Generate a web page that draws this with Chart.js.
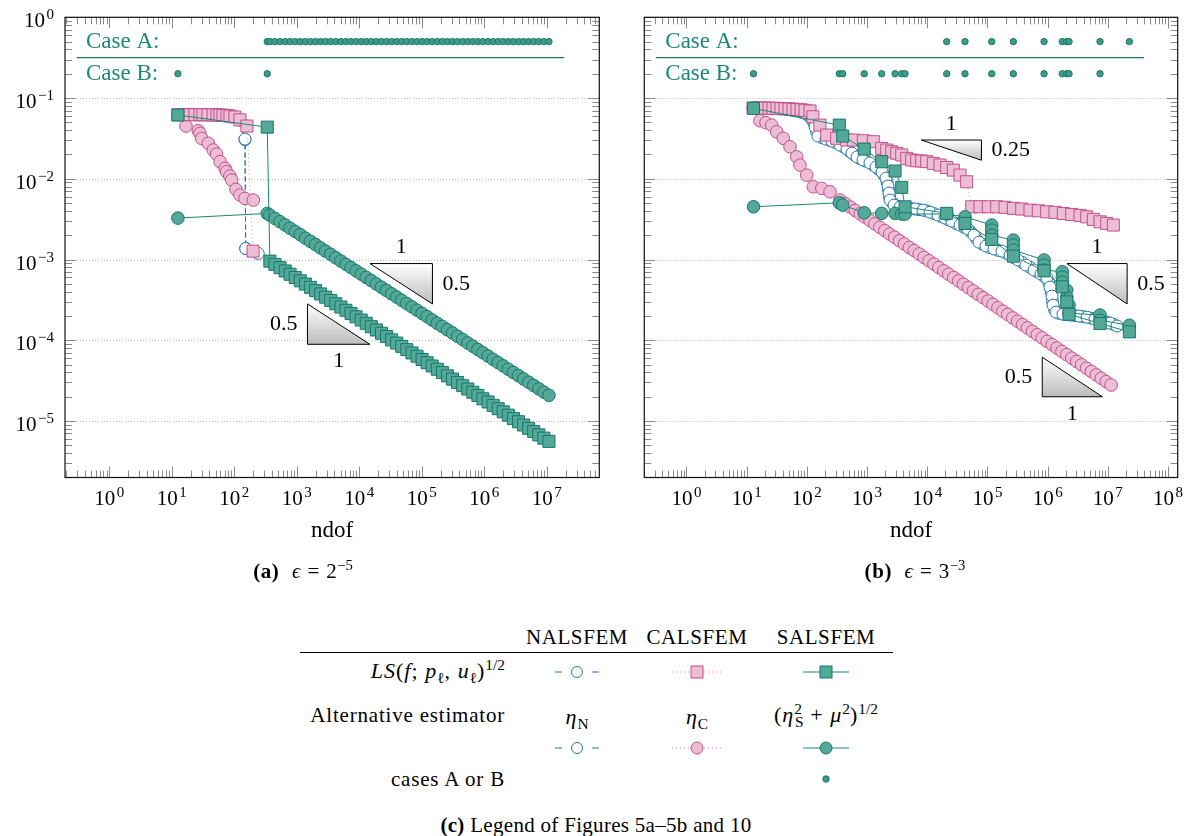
<!DOCTYPE html>
<html>
<head>
<meta charset="utf-8">
<title>ndof convergence</title>
<script src="https://cdn.jsdelivr.net/npm/chart.js@4.4.1/dist/chart.umd.min.js"></script>
<style>
  html, body { margin: 0; padding: 0; background: #fff; }
  body { position: relative; width: 1192px; height: 836px; overflow: hidden;
         font-family: 'Liberation Serif', 'Times New Roman', 'DejaVu Serif', serif; color: #000; }
  canvas { position: absolute; top: 0; }
  #chart-a { left: 0; }
  #chart-b { left: 620px; }
  .lbl { position: absolute; white-space: nowrap; font-size: 21px; line-height: 1;
         letter-spacing: 0.6px; transform: translate(-50%, -50%); }
  .lbl.r { transform: translate(-100%, -50%); }
  .m { font-size: 22px; letter-spacing: 1px; }
  .sp { display: inline-block; width: 0.3em; }
  .op { display: inline-block; margin: 0 0.3em; }
  .rule { position: absolute; left: 300px; width: 593px; top: 652px; border-top: 1px solid #000; }
  sup, sub { font-size: 70%; line-height: 0; position: relative; vertical-align: baseline; letter-spacing: 0; }
  sup { top: -0.55em; }
  sub { top: 0.3em; }
  .mk { position: absolute; transform: translate(-50%, -50%); }
</style>
</head>
<body>
<canvas id="chart-a" width="620" height="600"></canvas>
<canvas id="chart-b" width="572" height="600"></canvas>

<div class="lbl" style="left:303px;top:571px"><b>(a)</b><span class="sp"></span><span class="sp"></span><i>ϵ</i><span class="op">=</span>2<sup>−5</sup></div>
<div class="lbl" style="left:915px;top:571px"><b>(b)</b><span class="sp"></span><span class="sp"></span><i>ϵ</i><span class="op">=</span>3<sup>−3</sup></div>

<!-- legend table -->
<div class="lbl" style="left:577px;top:637px">NALSFEM</div>
<div class="lbl" style="left:697px;top:637px">CALSFEM</div>
<div class="lbl" style="left:826px;top:637px">SALSFEM</div>
<div class="rule"></div>

<div class="lbl r m" style="left:505px;top:671px"><i>LS</i>(<i>f</i>;<span class="sp"></span><i>p</i><sub>ℓ</sub>,<span class="sp"></span><i>u</i><sub>ℓ</sub>)<sup>1/2</sup></div>
<svg class="mk" style="left:577px;top:672px" width="46" height="16">
  <line x1="1" y1="8" x2="8" y2="8" stroke="#2474ad"/>
  <circle cx="23" cy="8" r="5.5" fill="#fff" stroke="#2474ad"/>
  <line x1="38" y1="8" x2="45" y2="8" stroke="#2474ad"/>
</svg>
<svg class="mk" style="left:697px;top:672px" width="50" height="16">
  <line x1="0" y1="8" x2="50" y2="8" stroke="#dc86b2" stroke-dasharray="1 3"/>
  <rect x="19" y="2" width="12" height="12" fill="#ebbed6" stroke="#c24f8a"/>
</svg>
<svg class="mk" style="left:826px;top:672px" width="46" height="16">
  <line x1="0" y1="8" x2="46" y2="8" stroke="#1b8676"/>
  <rect x="17" y="2" width="12" height="12" fill="#53a898" stroke="#17786a"/>
</svg>

<div class="lbl r" style="left:505px;top:715px;letter-spacing:0.8px">Alternative estimator</div>
<div class="lbl m" style="left:577px;top:717px"><i>η</i><sub>N</sub></div>
<div class="lbl m" style="left:697px;top:717px"><i>η</i><sub>C</sub></div>
<div class="lbl m" style="left:826px;top:715px">(<i>η</i><sup>2</sup><sub style="margin-left:-0.45em">S</sub><span class="op">+</span><i>μ</i><sup>2</sup>)<sup>1/2</sup></div>

<svg class="mk" style="left:577px;top:748px" width="46" height="16">
  <line x1="1" y1="8" x2="8" y2="8" stroke="#2474ad"/>
  <circle cx="23" cy="8" r="5.5" fill="#fff" stroke="#2474ad"/>
  <line x1="38" y1="8" x2="45" y2="8" stroke="#2474ad"/>
</svg>
<svg class="mk" style="left:697px;top:748px" width="50" height="16">
  <line x1="0" y1="8" x2="50" y2="8" stroke="#dc86b2" stroke-dasharray="1 3"/>
  <circle cx="25" cy="8" r="6" fill="#ebbed6" stroke="#c24f8a"/>
</svg>
<svg class="mk" style="left:826px;top:748px" width="46" height="16">
  <line x1="0" y1="8" x2="46" y2="8" stroke="#1b8676"/>
  <circle cx="23" cy="8" r="6" fill="#53a898" stroke="#17786a"/>
</svg>

<div class="lbl r" style="left:505px;top:779px;letter-spacing:0.8px">cases A or B</div>
<svg class="mk" style="left:826px;top:779px" width="10" height="10">
  <circle cx="5" cy="5" r="3.2" fill="#3d9b8a" stroke="#17786a"/>
</svg>

<div class="lbl" style="left:596px;top:825px;letter-spacing:0.3px"><b>(c)</b> Legend of Figures 5a–5b and 10</div>

<script>
/* ── ε = 2^-5 ─────────────────────────────────────────────── */

const a_ndofS = [12.5, 336, 370, 446, 538, 651, 780, 943, 1137, 1371, 1650, 1993,
  2401, 2887, 3486, 4203, 5075, 6104, 7369, 8866, 10723, 12904, 15571, 18739, 22606,
  27277, 32899, 39611, 47771, 57529, 69524, 83731, 100951, 121593, 146583, 176987,
  213331, 257011, 309773, 373219, 450849, 543217, 654671, 788823, 950641, 1148117,
  1383601, 1667209, 2009131, 2420987, 2924191, 3523667, 4246239, 5116771, 6165979,
  7447277, 8974331, 10814297];
const a_lsS = [0.0616, 0.0436, 9.55e-4, 8.70e-4, 7.92e-4, 7.21e-4, 6.57e-4, 5.98e-4,
  5.45e-4, 4.96e-4, 4.52e-4, 4.12e-4, 3.75e-4, 3.42e-4, 3.11e-4, 2.83e-4, 2.58e-4,
  2.35e-4, 2.14e-4, 1.95e-4, 1.78e-4, 1.62e-4, 1.47e-4, 1.34e-4, 1.22e-4, 1.11e-4,
  1.01e-4, 9.23e-5, 8.40e-5, 7.65e-5, 6.97e-5, 6.35e-5, 5.78e-5, 5.27e-5, 4.80e-5,
  4.37e-5, 3.98e-5, 3.62e-5, 3.30e-5, 3.00e-5, 2.74e-5, 2.49e-5, 2.27e-5, 2.07e-5,
  1.88e-5, 1.72e-5, 1.56e-5, 1.42e-5, 1.30e-5, 1.18e-5, 1.07e-5, 9.79e-6, 8.91e-6,
  8.12e-6, 7.39e-6, 6.73e-6, 6.13e-6, 5.59e-6];
const a_estS = [3.26e-3, 3.72e-3, 3.55e-3, 3.23e-3, 2.94e-3, 2.68e-3, 2.44e-3, 2.22e-3,
  2.03e-3, 1.84e-3, 1.68e-3, 1.53e-3, 1.39e-3, 1.27e-3, 1.16e-3, 1.05e-3, 9.58e-4,
  8.73e-4, 7.95e-4, 7.24e-4, 6.59e-4, 6.00e-4, 5.47e-4, 4.98e-4, 4.54e-4, 4.13e-4,
  3.76e-4, 3.43e-4, 3.12e-4, 2.84e-4, 2.59e-4, 2.36e-4, 2.15e-4, 1.96e-4, 1.78e-4,
  1.62e-4, 1.48e-4, 1.35e-4, 1.23e-4, 1.12e-4, 1.02e-4, 9.26e-5, 8.43e-5, 7.68e-5,
  7.00e-5, 6.37e-5, 5.80e-5, 5.28e-5, 4.81e-5, 4.38e-5, 3.99e-5, 3.64e-5, 3.31e-5,
  3.02e-5, 2.75e-5, 2.50e-5, 2.28e-5, 2.08e-5];

const a_ndofC = [12.5, 16.2, 19.5, 23.4, 28.2, 31.5, 37.8, 45.5, 52.7, 58.9, 65.8, 76.2,
  85.1, 102, 123, 159, 199];
const a_lsC = [0.0622, 0.0623, 0.0623, 0.0622, 0.0622, 0.0621, 0.0620, 0.0619, 0.0617,
  0.0615, 0.0612, 0.0606, 0.0598, 0.0582, 0.0537, 0.0450, 0.00127];
const a_ndofCe = [16.8, 26.5, 28.2, 30, 38.3, 46, 52, 59, 71, 75, 85, 90.6, 106, 123, 148, 201];
const a_estC = [0.0450, 0.0394, 0.0365, 0.0316, 0.0275, 0.0227, 0.0202, 0.0163, 0.0135,
  0.0122, 0.0108, 0.00964, 0.0074, 0.00628, 0.00571, 0.00545];

const a_ndofN = [12.5, 16.2, 19.5, 23.4, 28.2, 31.5, 37.8, 45.5, 52.7, 58.9, 65.8, 76.2,
  85.1, 102, 123, 148, 152, 241];
const a_lsN = [0.0622, 0.0622, 0.0621, 0.0621, 0.0620, 0.0620, 0.0619, 0.0618, 0.0616,
  0.0614, 0.0610, 0.0604, 0.0596, 0.0580, 0.0535, 0.0310, 0.00137, 0.00119];
const a_ndofNe = [12.5, 19.5, 28.2, 37.8, 52.7, 65.8, 85.1, 123, 148, 152];
const a_estN = [0.0621, 0.0620, 0.0619, 0.0617, 0.0615, 0.0609, 0.0594, 0.0533, 0.0305, 0.00137];

// refinement steps flagged as case A / case B
const a_caseA = a_ndofS.slice(1);
const a_caseB = a_ndofS.slice(0, 2);

/* ── ε = 3^-3 ─────────────────────────────────────────────── */

const b_ndofS = [13, 346, 394, 899, 1750, 2917, 3767, 4276, 21040, 42360, 117800,
  269200, 871000, 1750000, 2075000, 2265000, 7413000, 22750000];
const b_lsS = [0.0745, 0.0462, 0.0338, 0.0233, 0.01626, 0.01247, 0.00782, 0.0045,
  0.00373, 0.0028, 0.001775, 0.0011, 7.24e-4, 4.59e-4, 2.99e-4, 2.10e-4, 1.61e-4, 1.27e-4];
const b_ndofSe = [13, 346, 394, 899, 1750, 2917, 3767, 4276, 21040, 42360,
  117800, 117800, 117800, 269200, 269200, 269200, 871000, 871000, 871000,
  1750000, 1750000, 1750000, 2075000, 2075000, 2265000, 2265000, 7413000, 7413000, 22750000];
const b_estS = [0.0045, 0.00504, 0.00472, 0.00379, 0.00373, 0.00373, 0.00366, 0.00366,
  0.00366, 0.00338, 0.00267, 0.00231, 0.0020, 0.00174, 0.00151, 0.00131, 9.84e-4,
  8.53e-4, 7.40e-4, 7.05e-4, 6.05e-4, 5.25e-4, 4.18e-4, 3.42e-4, 2.72e-4, 2.17e-4,
  2.05e-4, 1.77e-4, 1.53e-4];

const b_ndofC = [12.8, 14.9, 17.3, 20.2, 23.6, 27.4, 32.0, 37.2, 43.4, 50.6, 59.0, 68.7,
  80.2, 93.3, 113, 126, 165, 214, 313, 459, 592, 867, 1271, 1750, 2123, 2570, 3112,
  3767, 4560, 5521, 6683, 8091, 9795, 12618, 16293, 21038, 27101, 34995, 45186, 54828,
  75162, 103276, 142561, 195884, 269153, 370681, 509331, 699842, 963829, 1324259,
  1819701, 2511886, 3451437, 4456562, 5741165, 7413102, 9571941, 12331048];
const b_lsC = [0.0752, 0.0752, 0.0752, 0.0750, 0.0748, 0.0746, 0.0745, 0.0741, 0.0738,
  0.0733, 0.0728, 0.0723, 0.0715, 0.0705, 0.0692, 0.0586, 0.0462, 0.0348, 0.0317,
  0.0302, 0.0302, 0.0296, 0.0288, 0.0238, 0.0227, 0.0216, 0.0207, 0.0197, 0.0179,
  0.0171, 0.0167, 0.0166, 0.0163, 0.0155, 0.0148, 0.0138, 0.0128, 0.0111, 0.00918,
  0.0045, 0.0045, 0.0045, 0.0045, 0.00443, 0.0043, 0.00422, 0.00409, 0.00401, 0.0039,
  0.00384, 0.00372, 0.00362, 0.00352, 0.00338, 0.00314, 0.00293, 0.0028, 0.00267];
const b_ndofCe = [16.6, 21, 26.1, 31.6, 40.6, 52.5, 67.9, 76.9, 99.5, 128, 177, 243, 356,
  437, 527, 636, 768, 927, 1119, 1351, 1631, 1968, 2376, 2868, 3462, 4179, 5045, 6089,
  7350, 8873, 10711, 12929, 15607, 18839, 22741, 27451, 33136, 39999, 48283, 58283,
  70354, 84925, 102514, 123745, 149373, 180310, 217653, 262730, 317143, 382826,
  462111, 557818, 673347, 812803, 981141, 1184342, 1429628, 1725715, 2083122,
  2514547, 3035324, 3663958, 4422787, 5338774, 6444468, 7779160, 9390276, 11335000];
const b_estC = [0.0524, 0.0495, 0.0462, 0.0382, 0.0317, 0.0249, 0.0187, 0.0148, 0.0111,
  0.00796, 0.0076, 0.0069, 0.00545, 4.91e-3, 4.46e-3, 4.05e-3, 3.68e-3, 3.35e-3,
  3.04e-3, 2.76e-3, 2.51e-3, 2.28e-3, 2.07e-3, 1.89e-3, 1.71e-3, 1.56e-3, 1.41e-3,
  1.29e-3, 1.17e-3, 1.06e-3, 9.64e-4, 8.76e-4, 7.96e-4, 7.24e-4, 6.58e-4, 5.98e-4,
  5.43e-4, 4.93e-4, 4.48e-4, 4.07e-4, 3.70e-4, 3.36e-4, 3.06e-4, 2.78e-4, 2.52e-4,
  2.29e-4, 2.09e-4, 1.89e-4, 1.72e-4, 1.56e-4, 1.42e-4, 1.29e-4, 1.17e-4, 1.07e-4,
  9.69e-5, 8.81e-5, 8.00e-5, 7.27e-5, 6.61e-5, 6.01e-5, 5.46e-5, 4.96e-5, 4.51e-5,
  4.10e-5, 3.72e-5, 3.38e-5, 3.07e-5, 2.79e-5];

const b_ndofN = [12.8, 20.2, 30.8, 46.8, 68.7, 96.8, 122, 137, 153, 208, 262, 356, 465,
  562, 681, 857, 1119, 1409, 1774, 2065, 2228, 2317, 2410, 2805, 3532, 4613, 6266, 8511,
  11117, 15101, 19724, 25763, 34995, 47534, 59704, 72277, 94624, 128529, 174582,
  237137, 321366, 436516, 592926, 776247, 974990, 1093956, 1180321, 1227439, 1377209,
  1798871, 2443430, 3318945, 4508167, 6123503, 8317638, 10864256, 14190575];
const b_lsN = [0.0752, 0.0752, 0.0741, 0.0719, 0.0690, 0.0634, 0.0550, 0.0438, 0.0338,
  0.0310, 0.0293, 0.0261, 0.0233, 0.0208, 0.0186, 0.0171, 0.0157, 0.0140, 0.0121,
  0.0102, 0.00813, 0.00665, 0.00545, 0.00472, 0.00447, 0.00434, 0.00422, 0.00409,
  0.00386, 0.00355, 0.00326, 0.00299, 0.00267, 0.00238, 0.0020, 0.00164, 0.00147,
  0.00135, 0.00127, 0.001135, 9.84e-4, 8.53e-4, 7.40e-4, 6.61e-4, 5.89e-4, 4.55e-4,
  3.52e-4, 2.72e-4, 2.23e-4, 2.10e-4, 2.05e-4, 1.99e-4, 1.93e-4, 1.83e-4, 1.73e-4,
  1.63e-4, 1.50e-4];
const b_ndofNe = [12.8, 25, 38, 57, 82, 110, 130, 145, 180, 235, 305, 410, 510, 620, 760,
  980, 1260, 1580, 1920, 2150, 2270, 2360, 2600, 3100, 4000, 5300, 7300, 9700, 13000,
  17200, 22500, 30000, 41000, 53000, 66000, 83000, 110000, 150000, 205000, 275000,
  380000, 510000, 680000, 870000, 1040000, 1140000, 1200000, 1300000, 1550000,
  2100000, 2850000, 3850000, 5250000, 7100000, 9500000, 12500000];
const b_estN = [0.0752, 0.0748, 0.0730, 0.0705, 0.0665, 0.0590, 0.0495, 0.0385, 0.0322,
  0.0301, 0.0278, 0.0247, 0.0220, 0.0197, 0.0178, 0.0164, 0.0148, 0.0130, 0.0110,
  0.0091, 0.0074, 0.0060, 0.0051, 0.0046, 0.0044, 0.0043, 0.00415, 0.0040, 0.0037,
  0.0034, 0.0031, 0.0028, 0.0025, 0.0022, 0.0018, 0.00155, 0.0014, 0.0013, 0.0012,
  0.00105, 9.2e-4, 8.0e-4, 7.0e-4, 6.2e-4, 5.2e-4, 4.0e-4, 3.1e-4, 2.4e-4, 2.15e-4,
  2.07e-4, 2.02e-4, 1.96e-4, 1.88e-4, 1.78e-4, 1.68e-4, 1.57e-4];

const b_caseA = b_ndofS.slice(8);
const b_caseB = b_ndofS.slice(0, 17);

// rows of the case strip and the rule between them
const CASE_A_Y = 0.5, CASE_B_Y = 0.2, CASE_RULE_Y = 0.316;
const a_caseRule = [0.30, 1.9e7];
const b_caseRule = [0.31, 4.0e7];

/* ── styling ──────────────────────────────────────────────── */

const BLUE = '#2474ad';
const PINK = '#c24f8a', PINK_FILL = '#ebbed6', PINK_LINE = '#dc86b2';
const TEAL = '#17786a', TEAL_FILL = '#53a898', TEAL_LINE = '#1b8676';
const CASE_TEXT = '#1f877a';
const SERIF = '"Liberation Serif", "Times New Roman", "DejaVu Serif", serif';

const pts = (xs, ys) => xs.map((x, i) => ({ x, y: ys[i] }));
const level = (xs, y) => xs.map(x => ({ x, y }));

function nalsfem(data) {
  return { data, showLine: true, borderColor: BLUE, borderWidth: 1, borderDash: [5, 3],
    pointStyle: 'circle', pointRadius: 6, pointBackgroundColor: '#fff',
    pointBorderColor: BLUE, pointBorderWidth: 1 };
}
function calsfem(data, style) {
  return { data, showLine: true, borderColor: PINK_LINE, borderWidth: 1, borderDash: [1, 3],
    pointStyle: style, pointRadius: style === 'rect' ? 8.5 : 6.3,
    pointBackgroundColor: PINK_FILL, pointBorderColor: PINK, pointBorderWidth: 1 };
}
function salsfem(data, style) {
  return { data, showLine: true, borderColor: TEAL_LINE, borderWidth: 1,
    pointStyle: style, pointRadius: style === 'rect' ? 8.5 : 6.3,
    pointBackgroundColor: TEAL_FILL, pointBorderColor: TEAL, pointBorderWidth: 1 };
}
function caseMarks(xs, y) {
  return { data: level(xs, y), showLine: false, pointStyle: 'circle', pointRadius: 3.2,
    pointBackgroundColor: '#3d9b8a', pointBorderColor: TEAL, pointBorderWidth: 1 };
}
function caseRule(xs) {
  return { data: level(xs, CASE_RULE_Y), showLine: true, borderColor: TEAL,
    borderWidth: 1.2, pointRadius: 0 };
}

/* ── frame, ticks, labels, slope triangles ────────────────── */

function powerLabel(ctx, exp, x, y, align) {
  const base = '10';
  const sup = exp < 0 ? '\u2212' + (-exp) : String(exp);
  ctx.font = `21px ${SERIF}`;
  const wb = ctx.measureText(base).width;
  ctx.font = `15px ${SERIF}`;
  const ws = ctx.measureText(sup).width;
  const w = wb + 1.5 + ws;
  const x0 = align === 'right' ? x - w : x - w / 2;
  ctx.textAlign = 'left';
  ctx.textBaseline = 'alphabetic';
  ctx.font = `21px ${SERIF}`;
  ctx.fillText(base, x0, y);
  ctx.font = `15px ${SERIF}`;
  ctx.fillText(sup, x0 + wb + 1.5, y - 8);
}

function logTicks(scale) {
  const lo = Math.floor(Math.log10(scale.min)), hi = Math.ceil(Math.log10(scale.max));
  const major = [], minor = [];
  for (let e = lo; e <= hi; e++) {
    const v = Math.pow(10, e);
    if (v >= scale.min && v <= scale.max) major.push(e);
    for (let m = 2; m <= 9; m++) {
      const mv = m * v;
      if (mv >= scale.min && mv <= scale.max) minor.push(mv);
    }
  }
  return { major, minor };
}

function drawSlope(chart, s) {
  const { ctx, scales: { x, y } } = chart;
  const x0 = x.getPixelForValue(s.x[0]), x1 = x.getPixelForValue(s.x[1]);
  const y0 = y.getPixelForValue(s.y[0]), y1 = y.getPixelForValue(s.y[1]);
  ctx.beginPath();
  if (s.corner === 'tr') { ctx.moveTo(x0, y0); ctx.lineTo(x1, y0); ctx.lineTo(x1, y1); }
  else { ctx.moveTo(x0, y0); ctx.lineTo(x0, y1); ctx.lineTo(x1, y1); }
  ctx.closePath();
  const g = ctx.createLinearGradient(0, y0, 0, y1);
  g.addColorStop(0, '#ffffff');
  g.addColorStop(1, '#bcbcbc');
  ctx.fillStyle = g;
  ctx.fill();
  ctx.strokeStyle = '#000';
  ctx.lineWidth = 1;
  ctx.stroke();

  ctx.fillStyle = '#000';
  ctx.font = `22px ${SERIF}`;
  ctx.textBaseline = 'middle';
  if (s.corner === 'tr') {
    ctx.textAlign = 'center';
    ctx.fillText(s.run, (x0 + x1) / 2, y0 - 16);
    ctx.textAlign = 'left';
    ctx.fillText(s.rise, x1 + 10, (y0 + y1) / 2);
  } else {
    ctx.textAlign = 'center';
    ctx.fillText(s.run, (x0 + x1) / 2, y1 + 17);
    ctx.textAlign = 'right';
    ctx.fillText(s.rise, x0 - 10, (y0 + y1) / 2);
  }
}

const axesFrame = {
  id: 'axesFrame',
  beforeDatasetsDraw(chart) {
    const { ctx, chartArea: a, scales: { y } } = chart;
    ctx.save();
    ctx.strokeStyle = '#b8b8b8';
    ctx.lineWidth = 1;
    ctx.setLineDash([1, 2]);
    for (const e of logTicks(y).major) {
      const py = Math.round(y.getPixelForValue(Math.pow(10, e))) + 0.5;
      if (py < a.top + 2) continue;
      ctx.beginPath();
      ctx.moveTo(a.left, py);
      ctx.lineTo(a.right, py);
      ctx.stroke();
    }
    ctx.restore();
  },
  afterDatasetsDraw(chart, args, opts) {
    const { ctx, chartArea: a, scales: { x, y } } = chart;
    ctx.save();

    // inward ticks on all four sides
    ctx.strokeStyle = '#8a8a8a';
    ctx.lineWidth = 1;
    const xt = logTicks(x), yt = logTicks(y);
    const tickX = (v, len) => {
      const px = Math.round(x.getPixelForValue(v)) + 0.5;
      ctx.beginPath();
      ctx.moveTo(px, a.bottom); ctx.lineTo(px, a.bottom - len);
      ctx.moveTo(px, a.top); ctx.lineTo(px, a.top + len);
      ctx.stroke();
    };
    const tickY = (v, len) => {
      const py = Math.round(y.getPixelForValue(v)) + 0.5;
      ctx.beginPath();
      ctx.moveTo(a.left, py); ctx.lineTo(a.left + len, py);
      ctx.moveTo(a.right, py); ctx.lineTo(a.right - len, py);
      ctx.stroke();
    };
    xt.minor.forEach(v => tickX(v, 7));
    xt.major.forEach(e => tickX(Math.pow(10, e), 11));
    yt.minor.forEach(v => tickY(v, 7));
    yt.major.forEach(e => tickY(Math.pow(10, e), 11));

    ctx.strokeStyle = '#111';
    ctx.lineWidth = 1.2;
    ctx.strokeRect(a.left, a.top, a.right - a.left, a.bottom - a.top);

    // tick labels
    ctx.fillStyle = '#000';
    xt.major.forEach(e => powerLabel(ctx, e, x.getPixelForValue(Math.pow(10, e)), a.bottom + 27.5, 'center'));
    if (opts.yLabels) {
      yt.major.forEach(e => powerLabel(ctx, e, a.left - 11, y.getPixelForValue(Math.pow(10, e)) + 10, 'right'));
    }
    ctx.font = `23px ${SERIF}`;
    ctx.textAlign = 'center';
    ctx.textBaseline = 'alphabetic';
    ctx.fillText('ndof', (a.left + a.right) / 2, a.bottom + 59);

    // case strip labels
    ctx.fillStyle = CASE_TEXT;
    ctx.font = `23px ${SERIF}`;
    ctx.textAlign = 'left';
    ctx.textBaseline = 'middle';
    ctx.fillText('Case A:', a.left + 21, y.getPixelForValue(CASE_A_Y));
    ctx.fillText('Case B:', a.left + 21, y.getPixelForValue(CASE_B_Y));

    (opts.slopes || []).forEach(s => drawSlope(chart, s));
    ctx.restore();
  }
};

/* ── charts ───────────────────────────────────────────────── */

function makeChart(id, cfg) {
  return new Chart(document.getElementById(id), {
    type: 'line',
    data: { datasets: cfg.datasets },
    plugins: [axesFrame],
    options: {
      responsive: false,
      animation: false,
      events: [],
      layout: { padding: cfg.padding },
      elements: { line: { tension: 0 } },
      plugins: {
        legend: { display: false },
        tooltip: { enabled: false },
        axesFrame: { yLabels: cfg.yLabels, slopes: cfg.slopes },
      },
      scales: {
        x: { type: 'logarithmic', min: cfg.xMin, max: cfg.xMax, display: false },
        y: { type: 'logarithmic', min: Math.pow(10, -5.7), max: 1, display: false },
      },
    },
  });
}

makeChart('chart-a', {
  xMin: Math.pow(10, -0.71), xMax: Math.pow(10, 7.84),
  padding: { left: 65, top: 17.3, right: 20.7, bottom: 122.5 },
  yLabels: true,
  slopes: [
    { x: [Math.pow(10, 4.17), Math.pow(10, 5.17)], y: [Math.pow(10, -3.05), Math.pow(10, -3.55)], corner: 'tr', run: '1', rise: '0.5' },
    { x: [Math.pow(10, 3.17), Math.pow(10, 4.17)], y: [Math.pow(10, -3.55), Math.pow(10, -4.05)], corner: 'bl', run: '1', rise: '0.5' },
  ],
  datasets: [
    salsfem(pts(a_ndofS, a_lsS), 'rect'),
    salsfem(pts(a_ndofS, a_estS), 'circle'),
    calsfem(pts(a_ndofC, a_lsC), 'rect'),
    calsfem(pts(a_ndofCe, a_estC), 'circle'),
    nalsfem(pts(a_ndofN, a_lsN)),
    nalsfem(pts(a_ndofNe, a_estN)),
    caseMarks(a_caseA, CASE_A_Y),
    caseMarks(a_caseB, CASE_B_Y),
    caseRule(a_caseRule),
  ],
});

makeChart('chart-b', {
  xMin: Math.pow(10, -0.70), xMax: Math.pow(10, 8.16),
  padding: { left: 24.3, top: 17.3, right: 14.3, bottom: 122.5 },
  yLabels: false,
  slopes: [
    { x: [Math.pow(10, 3.9), Math.pow(10, 4.9)], y: [Math.pow(10, -1.52), Math.pow(10, -1.77)], corner: 'tr', run: '1', rise: '0.25' },
    { x: [Math.pow(10, 6.32), Math.pow(10, 7.32)], y: [Math.pow(10, -3.05), Math.pow(10, -3.55)], corner: 'tr', run: '1', rise: '0.5' },
    { x: [Math.pow(10, 5.91), Math.pow(10, 6.91)], y: [Math.pow(10, -4.21), Math.pow(10, -4.70)], corner: 'bl', run: '1', rise: '0.5' },
  ],
  datasets: [
    salsfem(pts(b_ndofS, b_lsS), 'rect'),
    salsfem(pts(b_ndofSe, b_estS), 'circle'),
    calsfem(pts(b_ndofC, b_lsC), 'rect'),
    calsfem(pts(b_ndofCe, b_estC), 'circle'),
    nalsfem(pts(b_ndofN, b_lsN)),
    nalsfem(pts(b_ndofNe, b_estN)),
    caseMarks(b_caseA, CASE_A_Y),
    caseMarks(b_caseB, CASE_B_Y),
    caseRule(b_caseRule),
  ],
});
</script>
</body>
</html>
